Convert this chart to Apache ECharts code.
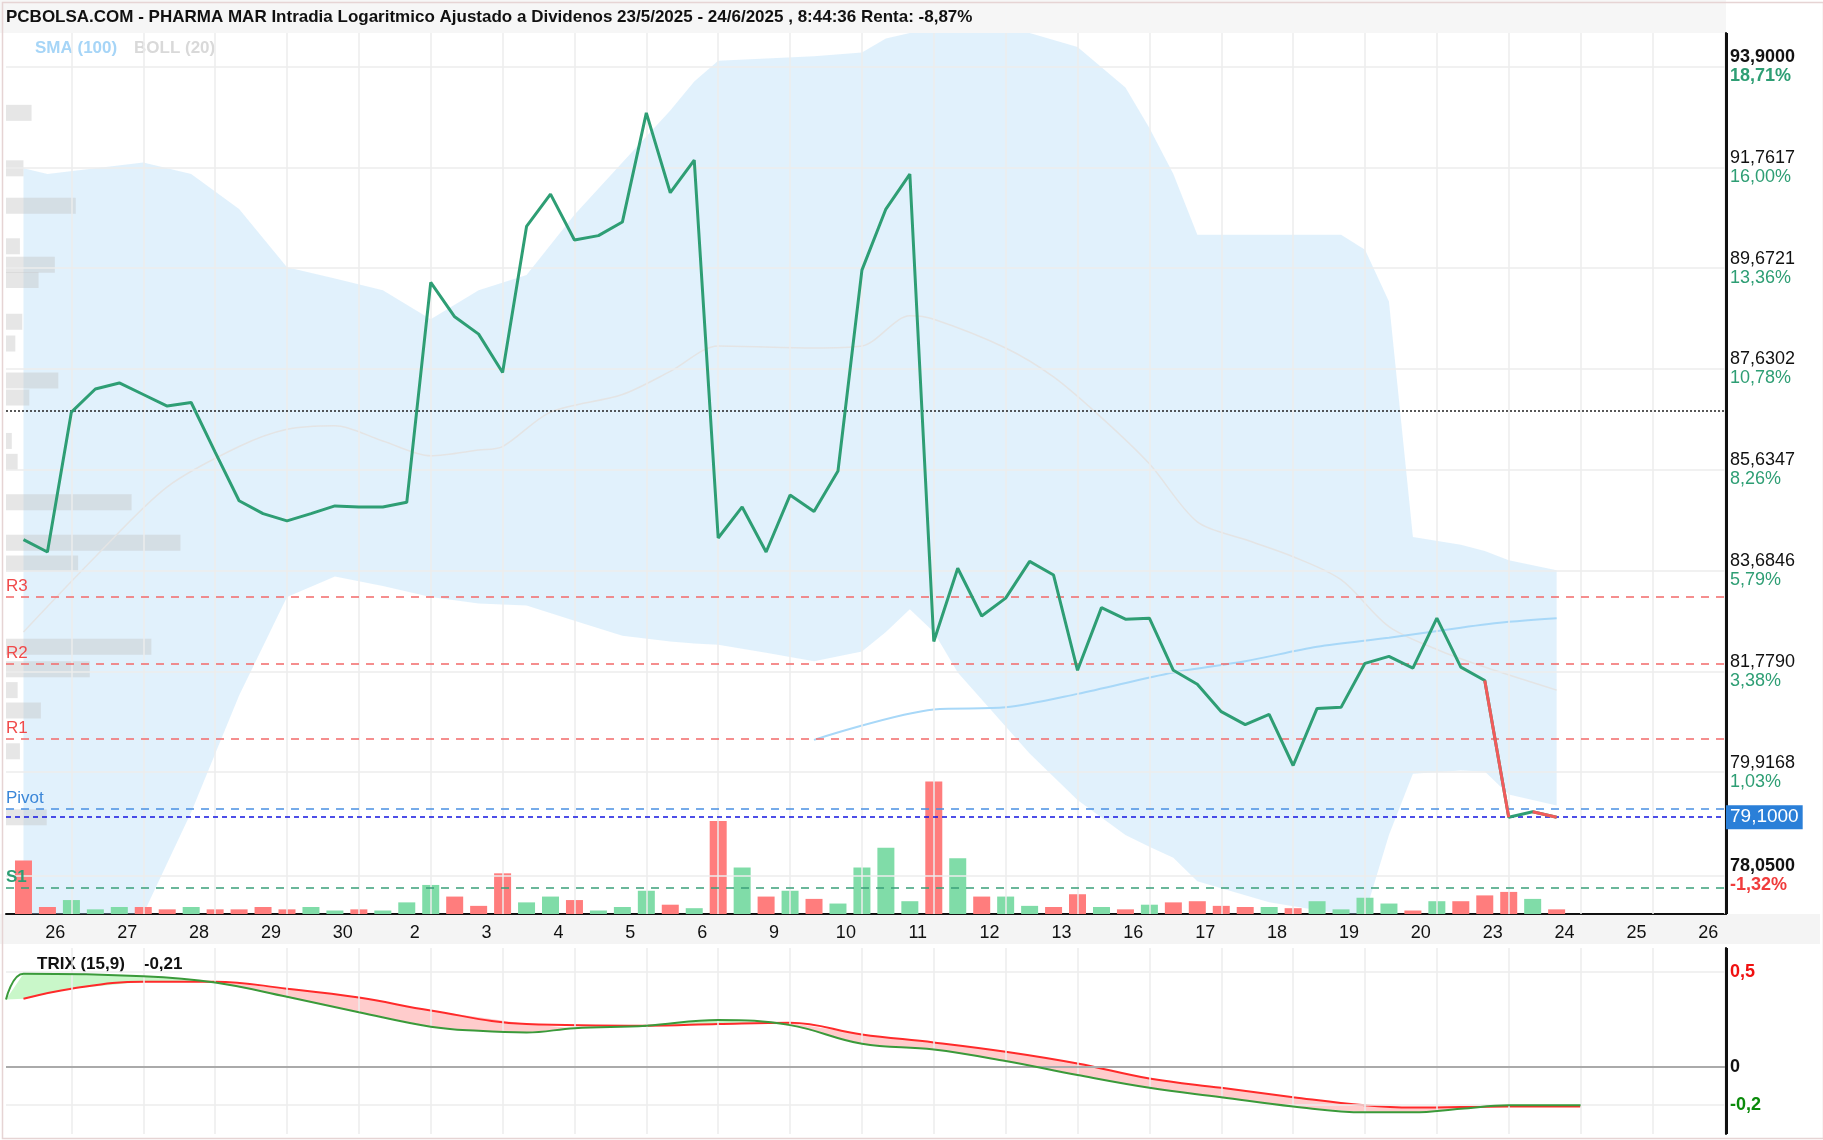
<!DOCTYPE html>
<html><head><meta charset="utf-8">
<script src="https://cdn.jsdelivr.net/npm/echarts@6/dist/echarts.min.js"></script>
<style>html,body{margin:0;padding:0;background:#fff}#c{width:1823px;height:1140px}</style>
</head><body><div id="c"></div>
<script>
// ---- data ----
const dayLabels = ['26','27','28','29','30','2','3','4','5','6','9','10','11','12','13','16','17','18','19','20','23','24','25','26'];
const price = [84.28,84.04,86.77,87.23,87.35,87.12,86.89,86.96,85.98,85.03,84.78,84.64,84.78,84.93,84.91,84.91,85.00,89.38,88.68,88.33,87.56,90.53,91.20,90.25,90.34,90.62,92.91,91.23,91.91,84.31,84.91,84.04,85.14,84.82,85.61,89.63,90.89,91.62,82.34,83.73,82.82,83.16,83.86,83.60,81.80,82.98,82.76,82.78,81.80,81.54,81.03,80.79,80.98,80.04,81.09,81.11,81.93,82.06,81.84,82.78,81.86,81.61,79.10,79.20,79.10];
const volume = [46,6,12,4,6,6,4,6,4,4,6,4,6,3,4,3,10,25,15,7,35,10,15,12,3,6,20,8,5,80,40,15,20,13,9,40,57,11,114,48,15,15,7,6,17,6,4,8,10,11,7,6,6,5,11,4,14,9,3,11,11,16,19,13,4];
const volumeUp = [0,0,1,1,1,0,0,1,0,0,0,0,1,1,0,1,1,1,0,0,0,1,1,0,1,1,1,0,1,0,1,0,1,0,1,1,1,1,0,1,0,1,1,0,0,1,0,1,0,0,0,0,1,0,1,1,1,1,0,1,0,0,0,1,0];
const bandIdx   = [0,1,5,7,9,11,13,15,17,19,21,23,25,27,28,29,31,33,35,36,37,38,39,42,44,46,47,48,49,52,55,56,57,58,60,61,62,64];
const bandUpper = [91.74,91.62,91.86,91.62,90.89,89.69,89.46,89.22,88.63,89.22,89.53,90.77,91.86,92.96,93.58,94.02,94.07,94.12,94.20,94.50,94.62,94.62,94.62,94.62,94.32,93.45,92.59,91.62,90.36,90.36,90.36,90.05,88.99,84.33,84.18,84.06,83.88,83.69];
const bandLower = [77.37,77.37,77.37,79.19,81.33,83.18,83.57,83.39,83.18,83.06,83.02,82.73,82.45,82.34,82.30,82.28,82.13,81.97,82.15,82.52,82.95,82.52,81.76,80.26,79.41,78.78,78.57,78.37,77.95,77.58,77.37,77.37,78.78,79.89,79.95,79.93,79.51,79.31];
const sma20Idx = [0,3,6,9,11,13,15,17,19,20,22,25,27,29,33,35,37,38,41,43,45,47,49,51,53,55,57,59,61,64];
const sma20    = [82.52,83.95,85.30,86.09,86.43,86.50,86.20,85.91,86.02,86.09,86.77,87.12,87.58,88.09,88.05,88.09,88.70,88.63,88.05,87.47,86.66,85.75,84.62,84.28,83.95,83.51,82.62,82.19,81.86,81.43];
const sma100Idx = [33,38,41,44,48,51,54,57,60,62,64];
const sma100    = [80.51,81.07,81.11,81.36,81.76,81.97,82.24,82.41,82.60,82.71,82.78];
const profilePrice = [92.91,91.74,90.96,90.12,89.74,89.43,88.58,88.14,87.40,87.06,86.20,85.79,85.00,84.22,83.82,82.24,81.82,81.43,81.05,80.30,79.10];
const profileLen   = [22,15,60,12,42,28,14,8,45,20,5,10,108,150,62,125,72,10,30,12,35];
const trixIdx = [-0.73,0,5,8,11,14,17,19,21,23,26,29,32,35,38,41,44,47,50,53,56,58,60,62,65];
const trix    = [0.355,0.49,0.477,0.444,0.369,0.288,0.212,0.19,0.181,0.204,0.217,0.247,0.22,0.122,0.092,0.031,-0.043,-0.11,-0.159,-0.208,-0.239,-0.239,-0.22,-0.202,-0.202];
const sigIdx = [0,2,5,8,11,14,17,21,26,29,32,35,38,41,44,47,50,53,56,58,62,65];
const signal = [0.359,0.412,0.449,0.449,0.412,0.365,0.297,0.226,0.217,0.226,0.233,0.171,0.129,0.08,0.018,-0.061,-0.11,-0.159,-0.202,-0.214,-0.208,-0.208];
const yTicks = [78.05,79.9168,81.779,83.6846,85.6347,87.6302,89.6721,91.7617,93.9];
const yTickText = ['78,0500','79,9168','81,7790','83,6846','85,6347','87,6302','89,6721','91,7617','93,9000'];
const yPctText = ['-1,32%','1,03%','3,38%','5,79%','8,26%','10,78%','13,36%','16,00%','18,71%'];
const levels = {R3:83.18,R2:81.93,R1:80.53,Pivot:79.26,S1:77.84};
const lastPrice = 79.10, dottedLevel = 86.80;
const trixTicks = [-0.2,0,0.5];
const trixTickText = ['-0,2','0','0,5'];

// ---- helpers ----
const GREEN='#2e9e74', RED='#f25a5a';
const X_MIN=-0.73, X_MAX=71.07;
const dayPos = dayLabels.map((d,k)=>1.33+3*k);
const vGrid = []; for(let k=0;k<24;k++) vGrid.push(2+3*k);
const pairs = (xs,ys)=>xs.map((x,i)=>[x,ys[i]]);
const gridStyle = {color:'#ececec',width:1.5,type:'solid'};
const axisEdge = {xAxis:X_MAX,lineStyle:{color:'#111',width:3,type:'solid'},label:{show:false}};

const chart = echarts.init(document.getElementById('c'));
const FONT = 'Liberation Sans, Arial, sans-serif';

function polyBetween(api, aIdx, aVal, bIdx, bVal, lo, hi, color){
  const pts=[];
  aIdx.forEach((x,i)=>{ if(x>=lo&&x<=hi) pts.push(api.coord([x,aVal[i]])); });
  const back=[];
  bIdx.forEach((x,i)=>{ if(x>=lo&&x<=hi) back.push(api.coord([x,bVal[i]])); });
  return {type:'polygon',shape:{points:pts.concat(back.reverse())},style:{fill:color},silent:true};
}
const lvlLabel = (t,c,b)=>({show:true,position:'insideStartTop',formatter:t,color:c,fontSize:17,fontWeight:b?'bold':'normal',distance:[0,2]});

const option = {
  animation:false,
  backgroundColor:'#fff',
  textStyle:{fontFamily:FONT},
  grid:[
    {left:6,top:33,width:1720,height:881},
    {left:6,top:948,width:1720,height:186}
  ],
  graphic:[
    {type:'rect',left:0,top:0,shape:{width:1726,height:33},style:{fill:'#f6f6f6'},z:-1},
    {type:'rect',left:0,top:914,shape:{width:1820,height:30},style:{fill:'#f4f4f4'},z:-1},
    {type:'rect',left:0,top:0,shape:{width:1821,height:1136},style:{fill:'none',stroke:'#e6d4d4',lineWidth:1.5},z:-1},
    {type:'text',left:6,top:9,style:{text:'PCBOLSA.COM - PHARMA MAR Intradia Logaritmico Ajustado a Dividenos 23/5/2025 - 24/6/2025 , 8:44:36 Renta: -8,87%',font:'bold 17px '+FONT,fill:'#111'}},
    {type:'text',left:35,top:40,style:{text:'SMA (100)',font:'bold 17px '+FONT,fill:'#a6d5f7'}},
    {type:'text',left:134,top:40,style:{text:'BOLL (20)',font:'bold 17px '+FONT,fill:'#d9d9d9'}},
    {type:'text',left:37,top:956,style:{text:'TRIX (15,9)    -0,21',font:'bold 17px '+FONT,fill:'#111'}}
  ],
  xAxis:[
    {type:'value',gridIndex:0,min:X_MIN,max:X_MAX,
     axisLine:{show:true,onZero:false,lineStyle:{color:'#111',width:2}},axisTick:{show:false},splitLine:{show:false},
     axisLabel:{customValues:dayPos,color:'#111',fontSize:18,margin:10,
       formatter:v=>dayLabels[Math.round((v-1.33)/3)]}},
    {type:'value',gridIndex:1,min:X_MIN,max:X_MAX,axisLine:{show:false,onZero:false},axisTick:{show:false},axisLabel:{show:false},splitLine:{show:false}},
    {type:'value',gridIndex:0,min:0,max:1479,show:false,axisLine:{onZero:false}}
  ],
  yAxis:[
    {type:'log',gridIndex:0,position:'right',min:77.37,max:94.62,logBase:10,
     axisLine:{show:true,onZero:false,lineStyle:{color:'#111',width:2}},axisTick:{show:false},splitLine:{show:false},
     axisLabel:{customValues:yTicks,margin:4,lineHeight:19,
       formatter:v=>{let k=0,b=1e9;yTicks.forEach((t,i)=>{if(Math.abs(t-v)<b){b=Math.abs(t-v);k=i;}});
         const bold=(k===0||k===yTicks.length-1);
         const pc = k===0?'r':(bold?'gb':'g');
         return '{'+(bold?'pb':'p')+'|'+yTickText[k]+'}\n{'+pc+'|'+yPctText[k]+'}';},
       rich:{p:{fontSize:18,color:'#111'},pb:{fontSize:18,color:'#111',fontWeight:'bold'},
             g:{fontSize:18,color:GREEN},gb:{fontSize:18,color:GREEN,fontWeight:'bold'},
             r:{fontSize:18,color:'#f03c3c',fontWeight:'bold'}}}},
    {type:'value',gridIndex:0,min:0,max:758,show:false,axisLine:{show:false,onZero:false}},
    {type:'value',gridIndex:1,position:'right',min:-0.353,max:0.626,
     axisLine:{show:true,onZero:false,lineStyle:{color:'#111',width:2}},axisTick:{show:false},splitLine:{show:false},
     axisLabel:{customValues:trixTicks,margin:4,
       formatter:v=>{const k=trixTicks.findIndex(t=>Math.abs(t-v)<1e-6);const s=['n','z','p'][k];return '{'+s+'|'+trixTickText[k]+'}';},
       rich:{n:{fontSize:18,fontWeight:'bold',color:'#0a8a0a'},z:{fontSize:18,fontWeight:'bold',color:'#111'},p:{fontSize:18,fontWeight:'bold',color:'#f01010'}}}}
  ],
  series:[
    {type:'custom',xAxisIndex:0,yAxisIndex:0,z:1,silent:true,data:[[0,80]],
     renderItem:(p,api)=>polyBetween(api,bandIdx,bandUpper,bandIdx,bandLower,-1,100,'rgba(176,218,246,0.38)')},
    {type:'custom',xAxisIndex:2,yAxisIndex:0,z:2,silent:true,data:pairs(profileLen,profilePrice),
     renderItem:(p,api)=>{const a=api.coord([0,api.value(1)]),b=api.coord([api.value(0),api.value(1)]);
       return {type:'rect',shape:{x:a[0],y:a[1]-8,width:b[0]-a[0],height:16},style:{fill:'rgba(195,195,195,0.42)'}};}},
    {type:'bar',xAxisIndex:0,yAxisIndex:1,z:3,barWidth:17,silent:true,
     data:volume.map((v,i)=>({value:[i,v],itemStyle:{color:volumeUp[i]?'#80dca8':'#ff7d7d'}}))},
    {type:'line',xAxisIndex:0,yAxisIndex:0,z:4,data:pairs(sma20Idx,sma20),symbol:'none',smooth:0.3,lineStyle:{color:'#e4e4e4',width:1.5}},
    {type:'line',xAxisIndex:0,yAxisIndex:0,z:4,data:pairs(sma100Idx,sma100),symbol:'none',smooth:0.3,lineStyle:{color:'#a8d8f8',width:2}},
    {type:'line',xAxisIndex:0,yAxisIndex:0,z:6,data:price.map((v,i)=>[i,v]),symbol:'none',lineStyle:{color:GREEN,width:3},
     markLine:{silent:true,symbol:'none',animation:false,
      data:[
        ...yTicks.map(t=>({yAxis:t,lineStyle:gridStyle,label:{show:false}})),
        ...vGrid.map(x=>({xAxis:x,lineStyle:gridStyle,label:{show:false}})),
        {yAxis:dottedLevel,lineStyle:{color:'#222',width:1.5,type:[2,2]},label:{show:false}},
        {yAxis:levels.R3,lineStyle:{color:'#f26a6a',width:1.5,type:[8,7]},label:lvlLabel('R3','#f04a4a')},
        {yAxis:levels.R2,lineStyle:{color:'#f26a6a',width:1.5,type:[8,7]},label:lvlLabel('R2','#f04a4a')},
        {yAxis:levels.R1,lineStyle:{color:'#f26a6a',width:1.5,type:[8,7]},label:lvlLabel('R1','#f04a4a')},
        {yAxis:levels.Pivot,lineStyle:{color:'#4a90e2',width:1.5,type:[8,7]},label:lvlLabel('Pivot','#3a86d8')},
        {yAxis:levels.S1,lineStyle:{color:'#3aa07a',width:1.5,type:[8,7]},label:lvlLabel('S1',GREEN,true)},
        {yAxis:lastPrice,lineStyle:{color:'#1414e0',width:1.5,type:[5,4]},label:{show:true,position:'end',formatter:'79,1000',color:'#fff',fontSize:19,backgroundColor:'#2a7fd8',padding:[3,4,2,4],distance:0}},
        axisEdge
      ]}},
    {type:'line',xAxisIndex:0,yAxisIndex:0,z:7,data:[[61,price[61]],[62,price[62]]],symbol:'none',lineStyle:{color:RED,width:3}},
    {type:'line',xAxisIndex:0,yAxisIndex:0,z:7,data:[[63,price[63]],[64,price[64]]],symbol:'none',lineStyle:{color:RED,width:3}},
    // TRIX
    {type:'custom',xAxisIndex:1,yAxisIndex:2,z:2,silent:true,data:[[0,0]],
     renderItem:(p,api)=>({type:'group',children:[
       polyBetween(api,trixIdx,trix,sigIdx,signal,-1,8,'rgba(120,235,120,0.4)'),
       polyBetween(api,trixIdx,trix,sigIdx,signal,8,23,'rgba(255,120,120,0.38)'),
       polyBetween(api,trixIdx,trix,sigIdx,signal,23,32,'rgba(120,235,120,0.4)'),
       polyBetween(api,trixIdx,trix,sigIdx,signal,32,66,'rgba(255,120,120,0.38)')
     ]})},
    {type:'line',xAxisIndex:1,yAxisIndex:2,z:4,data:pairs(sigIdx,signal),symbol:'none',smooth:0.4,lineStyle:{color:'#ff2a2a',width:2}},
    {type:'line',xAxisIndex:1,yAxisIndex:2,z:5,data:pairs(trixIdx,trix),symbol:'none',smooth:0.4,lineStyle:{color:'#3a9a3a',width:2},
     markLine:{silent:true,symbol:'none',data:[
       {yAxis:0.5,lineStyle:gridStyle,label:{show:false}},
       {yAxis:-0.2,lineStyle:gridStyle,label:{show:false}},
       ...vGrid.map(x=>({xAxis:x,lineStyle:gridStyle,label:{show:false}})),
       {yAxis:0,lineStyle:{color:'#aaa',width:2,type:'solid'},label:{show:false}},
       axisEdge
     ]}}
  ]
};
chart.setOption(option);
</script></body></html>
